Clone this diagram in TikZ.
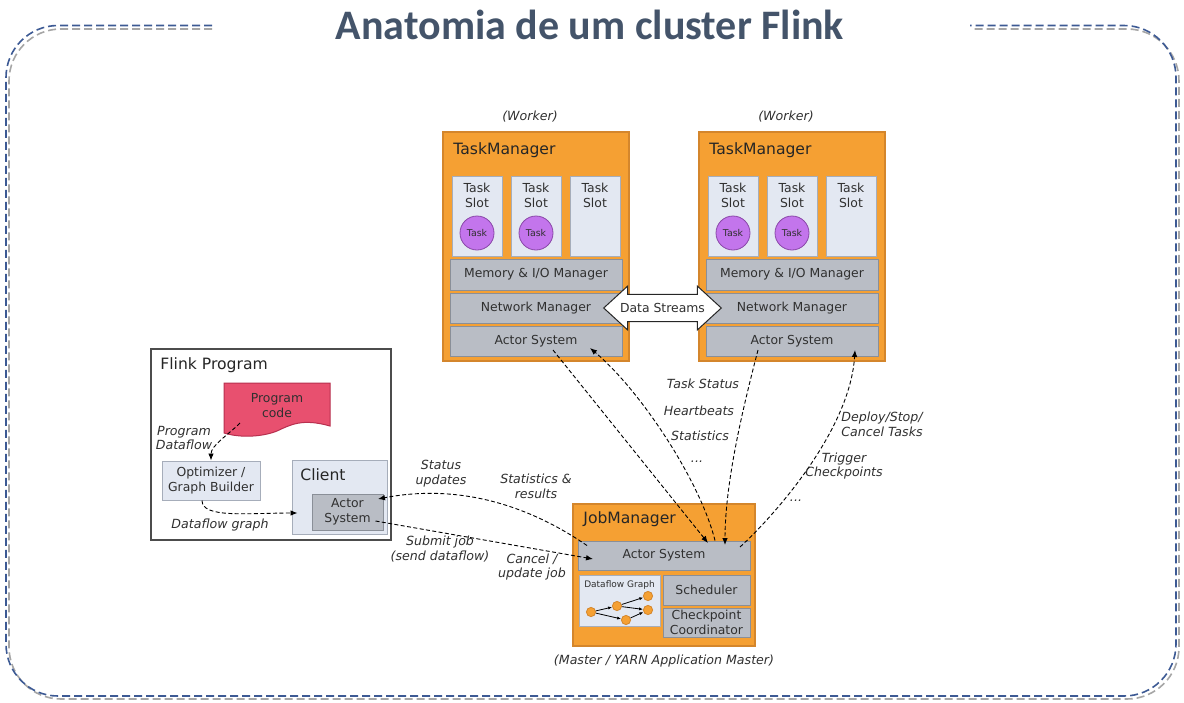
\documentclass[tikz,border=0pt]{standalone}
\usepackage{fontspec}
\setmainfont{DejaVu Sans}
\newfontfamily\titlefont{Carlito}
\usepackage{xcolor}
\usepackage{tikz}
\usetikzlibrary{arrows.meta, shapes.arrows, calc}
\definecolor{tmorange}{HTML}{F5A033}
\definecolor{tmborder}{HTML}{D4862C}
\definecolor{slotfill}{HTML}{E3E8F2}
\definecolor{slotborder}{HTML}{A6ADBA}
\definecolor{barfill}{HTML}{B9BDC5}
\definecolor{barborder}{HTML}{8A8F98}
\definecolor{taskfill}{HTML}{C375EC}
\definecolor{taskborder}{HTML}{8947A8}
\definecolor{codefill}{HTML}{E8506F}
\definecolor{codeborder}{HTML}{B8304F}
\definecolor{titleblue}{HTML}{44546A}
\definecolor{frameblue}{HTML}{3D5A94}
\definecolor{framegray}{HTML}{A6A6A6}
\definecolor{boxtext}{HTML}{303030}
\newcommand{\boxfont}{\fontsize{6.2pt}{7.3pt}\selectfont}
\newcommand{\headfont}{\fontsize{7.8pt}{9pt}\selectfont}
\newcommand{\msgfont}{\fontsize{6.3pt}{7.3pt}\selectfont\itshape}

\begin{document}
\begin{tikzpicture}[x=0.5pt, y=-0.5pt,
		manager/.style 2 args={
			draw=tmborder,
			fill=tmorange,
			line width=0.6pt,
			minimum width=#1,
			minimum height=#2,
			inner sep=0pt},
		slot/.style 2 args={
			draw=slotborder,
			fill=slotfill,
			line width=0.5pt,
			minimum width=#1,
			minimum height=#2,
			inner sep=0pt,
			font=\boxfont,
			text=boxtext,
			align=center},
		bar/.style 2 args={
			draw=barborder,
			fill=barfill,
			line width=0.5pt,
			minimum width=#1,
			minimum height=#2,
			inner sep=0pt,
			font=\boxfont,
			text=boxtext,
			align=center},
		task/.style={circle, draw=taskborder, fill=taskfill, minimum size=17pt, inner sep=0pt,
			font=\fontsize{4.7pt}{5pt}\selectfont, text=boxtext},
		op/.style={circle, draw=tmborder, fill=tmorange, minimum size=4.6pt, inner sep=0pt, line width=0.4pt},
		head/.style={anchor=base west, font=\headfont, text=black!85, inner sep=0pt},
		msg/.style={font=\msgfont, text=boxtext, align=center, inner sep=0pt},
		flow/.style={-{Latex[length=3.5pt,width=2.8pt]}, dash pattern=on 2pt off 1.2pt, line width=0.45pt}
		]
		\useasboundingbox (0,0) rectangle (1184,702);
		% frame
		\draw[framegray, line width=0.8pt, dash pattern=on 4pt off 2pt, rounded corners=26pt]
			(212,29) -- (9,29) -- (9,699) -- (1179,699) -- (1179,29) -- (973,29);
		\draw[frameblue, line width=0.8pt, dash pattern=on 4pt off 2pt, rounded corners=26pt]
			(212,25.5) -- (6,25.5) -- (6,696) -- (1176,696) -- (1176,25.5) -- (970,25.5);
		\node[anchor=base, font=\titlefont\bfseries\fontsize{21pt}{24pt}\selectfont, text=titleblue] (title) at (590,39.5) {Anatomia de um cluster Flink};

		% task managers
		\foreach \tm/\x in {1/536, 2/792} {
			\node[msg] (worker\tm) at (\x-6, 117) {(Worker)};
			\node[manager={93pt}{114.5pt}] (tm\tm) at (\x, 246.5) {};
			\node[head] (tmhead\tm) at (\x-83, 154) {TaskManager};
			\foreach \k in {0,1,2} {
				\node[slot={25pt}{40pt}] (slot\tm\k) at (\x-59+59*\k, 216) {};
				\node[font=\boxfont, text=boxtext, align=center, anchor=north, inner sep=0pt] (slottxt\tm\k) at (\x-59+59*\k, 183) {Task\\Slot};
			}
			\foreach \k in {0,1}
			\node[task] (task\tm\k) at (\x-59+59*\k, 233) {Task};
			\node[bar={86pt}{15.5pt}] (mem\tm) at (\x, 274.5) {Memory \& I/O Manager};
			\node[bar={86pt}{15pt}] (net\tm) at (\x, 308) {Network Manager};
			\node[bar={86pt}{15pt}] (as\tm) at (\x, 341) {Actor System};
		}
		\node[double arrow, draw=black!85, fill=white, line width=0.5pt, minimum height=52pt, minimum width=22pt,
			double arrow head extend=4pt, double arrow tip angle=85, inner xsep=0.5pt, inner ysep=3.9pt,
			font=\boxfont, text=boxtext] (streams) at (662.5,308) {Data Streams};

		% flink program
		\node[draw=black!70, fill=white, line width=0.7pt, minimum width=120pt, minimum height=95.5pt] (prog) at (271,444.5) {};
		\node[head] (proghead) at (160,369) {Flink Program};
		\filldraw[fill=codefill, draw=codeborder, line width=0.5pt] (224,383) -- (330,383) -- (330,426)
			.. controls (302,418) and (290,425) .. (277,431) .. controls (262,437) and (240,438) .. (224,433) -- cycle;
		\node[font=\boxfont, text=boxtext, align=center] (code) at (277,405.5) {Program\\code};
		\node[slot={49pt}{19.5pt}] (opt) at (211,480.5) {Optimizer /\\Graph Builder};
		\node[slot={47.5pt}{37pt}] (client) at (339.5,497) {};
		\node[head] (clienthead) at (300,480) {Client};
		\node[bar={35.5pt}{18pt}] (cas) at (347.5,512) {Actor\\System};

		% job manager
		\node[manager={91pt}{71pt}] (jm) at (664,575) {};
		\node[head] (jmhead) at (583,523) {JobManager};
		\node[bar={86pt}{14.5pt}] (jmas) at (664,555.5) {Actor System};
		\node[slot={40.5pt}{25.5pt}] (dfg) at (619.5,600.5) {};
		\node[font=\fontsize{4.5pt}{5pt}\selectfont, text=boxtext, inner sep=0pt] (dfgtitle) at (619.5,585) {Dataflow Graph};
		\node[bar={43.5pt}{15pt}] (sched) at (706.5,590) {Scheduler};
		\node[bar={43.5pt}{14.5pt}] (ckpt) at (706.5,622.5) {Checkpoint\\Coordinator};
		\foreach \n/\px/\py in {1/591/612, 2/617/606, 3/626/620, 4/648/596, 5/648/610}
		\node[op] (op\n) at (\px,\py) {};
		\foreach \a/\b in {1/2, 1/3, 2/4, 2/5, 3/5}
		\draw[-{Latex[length=2pt,width=1.6pt]}, line width=0.4pt] (op\a) -- (op\b);
		\node[msg] (master) at (664,661) {(Master / YARN Application Master)};

		% messages
		\draw[flow] ($(code.center)+(-37,17.5)$) .. controls +(-12,12) and +(0,-15) .. (opt.north);
		\draw[flow] ($(opt.south)+(-9,0)$) .. controls +(0,18) and +(-50,0) .. ($(client.west)+(6,16)$);
		\draw[flow] ($(cas.center)+(28,9)$) -- ($(jmas.center)+(-71,3.5)$);
		\draw[flow] ($(jmas.center)+(-77,-10)$) .. controls +(-67,-46) and +(72,-14) .. ($(cas.center)+(30.5,-13)$);
		\draw[flow] ($(as1.center)+(17,9)$) -- ($(jmas.center)+(44,-12.5)$);
		\draw[flow] ($(jmas.center)+(51,-15)$) .. controls +(-15,-60) and +(50,42) .. ($(as1.center)+(54,7)$);
		\draw[flow] ($(as2.center)+(-34,9)$) .. controls +(-13,50) and +(0,-65) .. ($(jmas.center)+(61,-10.5)$);
		\draw[flow] ($(jmas.center)+(76,-8.5)$) .. controls +(35,-32) and +(-5,80) .. ($(as2.center)+(63,9)$);

		\node[msg] (lbldataflow) at (184,438) {Program\\Dataflow};
		\node[msg] (lblgraph) at (220,525) {Dataflow graph};
		\node[msg] (lblstatus) at (441,473.5) {Status\\updates};
		\node[msg] (lblstats) at (536,486) {Statistics \&\\results};
		\node[msg] (lblsubmit) at (440,549) {Submit job\\(send dataflow)};
		\node[msg] (lblcancel) at (532,567) {Cancel /\\update job};
		\node[msg] (lbltask) at (703,384) {Task Status};
		\node[msg] (lblbeat) at (699,411) {Heartbeats};
		\node[msg] (lblstat) at (700,436) {Statistics};
		\node[msg] (lbldots) at (697,462) {...};
		\node[msg] (lbldeploy) at (882,424) {Deploy/Stop/\\Cancel Tasks};
		\node[msg] (lbltrigger) at (844,466) {Trigger\\Checkpoints};
		\node[msg] (lbldots2) at (796,501) {...};
		\end{tikzpicture}
\end{document}
